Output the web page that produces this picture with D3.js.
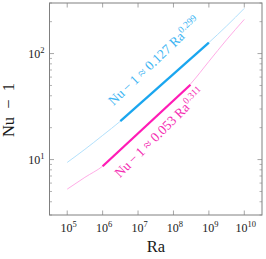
<!DOCTYPE html>
<html>
<head>
<meta charset="utf-8">
<script src="https://cdn.jsdelivr.net/npm/d3@7"></script>
<style>
  body { margin: 0; background: #fff; }
  text { font-family: "Liberation Serif", "DejaVu Serif", serif; }
</style>
</head>
<body>
<svg id="chart" width="266" height="259"></svg>
<script>
// Ra values (log10) the two curves are sampled at
var raLog = [5, 5.5, 6, 6.5, 7, 7.5, 8, 8.5, 9, 9.5, 10];
// Nu - 1
var blueNu = [9.4, 12.5, 16.9, 23.0, 32.4, 45.5, 64.0, 89.9, 127, 182, 267];
var pinkNu = [5.26, 6.8, 8.65, 12.3, 17.6, 25.1, 35.9, 52.5, 84.3, 135, 210];

// fitted power laws: thick segments, endpoints [Ra, Nu-1]
var blueFit = [[Math.pow(10, 6.5), 23.0], [1e9, 127]];
var pinkFit = [[1e6, 8.65], [Math.pow(10, 8.48), 50.8]];
var blueLabel = { pre: "Nu\u2009\u2212\u20091 \u2248 0.127 Ra", exp: "0.299", at: [Math.pow(10, 6.31), 32.1] };
var pinkLabel = { pre: "Nu\u2009\u2212\u20091 \u2248 0.053 Ra", exp: "0.311", at: [Math.pow(10, 6.49), 6.66] };

var xTicks = [1e5, 1e6, 1e7, 1e8, 1e9, 1e10];
var yTicks = [10, 100];

var svg = d3.select("#chart");
var pLeft = 49.5, pRight = 262, pTop = 3, pBottom = 215;

var x = d3.scaleLog().domain([Math.pow(10, 4.5), Math.pow(10, 10.5)]).range([pLeft, pRight]);
var y = d3.scaleLog().domain([3, 300]).range([pBottom, pTop]);

var yMinor = [];
[1, 10, 100].forEach(function(b) {
    for (var k = 2; k <= 9; k++) {
        var v = b * k;
        if (v >= 3 && v <= 300) yMinor.push(v);
    }
});

var axisColor = "#808080";
var g = svg.append("g");

// ticks, pointing inward on all four sides
xTicks.forEach(function(t) {
    g.append("line").attr("x1", x(t)).attr("x2", x(t)).attr("y1", pBottom).attr("y2", pBottom - 4.5)
        .attr("stroke", axisColor).attr("stroke-width", 0.7);
    g.append("line").attr("x1", x(t)).attr("x2", x(t)).attr("y1", pTop).attr("y2", pTop + 4.5)
        .attr("stroke", axisColor).attr("stroke-width", 0.7);
});
yTicks.forEach(function(t) {
    g.append("line").attr("x1", pLeft).attr("x2", pLeft + 4.5).attr("y1", y(t)).attr("y2", y(t))
        .attr("stroke", axisColor).attr("stroke-width", 0.7);
    g.append("line").attr("x1", pRight).attr("x2", pRight - 4.5).attr("y1", y(t)).attr("y2", y(t))
        .attr("stroke", axisColor).attr("stroke-width", 0.7);
});
yMinor.forEach(function(t) {
    g.append("line").attr("x1", pLeft).attr("x2", pLeft + 2.5).attr("y1", y(t)).attr("y2", y(t))
        .attr("stroke", axisColor).attr("stroke-width", 0.6);
    g.append("line").attr("x1", pRight).attr("x2", pRight - 2.5).attr("y1", y(t)).attr("y2", y(t))
        .attr("stroke", axisColor).attr("stroke-width", 0.6);
});

g.append("rect").attr("x", pLeft).attr("y", pTop).attr("width", pRight - pLeft).attr("height", pBottom - pTop)
    .attr("fill", "none").attr("stroke", axisColor).attr("stroke-width", 1);

// tick labels
function powLabel(sel, e) {
    sel.append("tspan").text("10");
    sel.append("tspan").attr("dy", -5).attr("font-size", 8.5).text(e);
}
xTicks.forEach(function(t) {
    var tx = g.append("text").attr("x", x(t) + 1.5).attr("y", 231.5).attr("text-anchor", "middle")
        .attr("font-size", 12).attr("fill", "#1a1a1a");
    powLabel(tx, Math.round(Math.log10(t)));
});
yTicks.forEach(function(t) {
    var ty = g.append("text").attr("x", 44.5).attr("y", y(t) + 4.3).attr("text-anchor", "end")
        .attr("font-size", 12).attr("fill", "#1a1a1a");
    powLabel(ty, Math.round(Math.log10(t)));
});

svg.append("text").attr("x", 156).attr("y", 252).attr("text-anchor", "middle")
    .attr("font-size", 16.5).attr("fill", "#1a1a1a").text("Ra");
svg.append("text").attr("transform", "translate(14,110) rotate(-90)").attr("text-anchor", "middle")
    .attr("font-size", 16.5).attr("fill", "#1a1a1a").text("Nu\u2002\u2212\u20021");

// curves
var line = d3.line()
    .x(function(d) { return x(d[0]); })
    .y(function(d) { return y(d[1]); })
    .curve(d3.curveMonotoneX);
var straight = d3.line()
    .x(function(d) { return x(d[0]); })
    .y(function(d) { return y(d[1]); });

function pts(vals) {
    return raLog.map(function(r, i) { return [Math.pow(10, r), vals[i]]; });
}

svg.append("path").attr("d", line(pts(blueNu))).attr("fill", "none")
    .attr("stroke", "#a9ddfa").attr("stroke-width", 0.9);
svg.append("path").attr("d", line(pts(pinkNu))).attr("fill", "none")
    .attr("stroke", "#ffa3e3").attr("stroke-width", 0.9);

svg.append("path").attr("d", straight(blueFit))
    .attr("fill", "none").attr("stroke", "#1aa6ef").attr("stroke-width", 2.3);
svg.append("path").attr("d", straight(pinkFit))
    .attr("fill", "none").attr("stroke", "#ff1cb6").attr("stroke-width", 2.3);

// labels along the fits
function fitLabel(lbl, fit, color) {
    var ang = Math.atan2(y(fit[1][1]) - y(fit[0][1]), x(fit[1][0]) - x(fit[0][0])) * 180 / Math.PI;
    var t = svg.append("text")
        .attr("transform", "translate(" + x(lbl.at[0]) + "," + y(lbl.at[1]) + ") rotate(" + (ang - 2) + ")")
        .attr("font-size", 13.5).attr("fill", color);
    t.append("tspan").text(lbl.pre);
    t.append("tspan").attr("dy", -5.5).attr("font-size", 9.5).text(lbl.exp);
}
fitLabel(blueLabel, blueFit, "#3db5f3");
fitLabel(pinkLabel, pinkFit, "#f42cb2");
</script>
</body>
</html>
